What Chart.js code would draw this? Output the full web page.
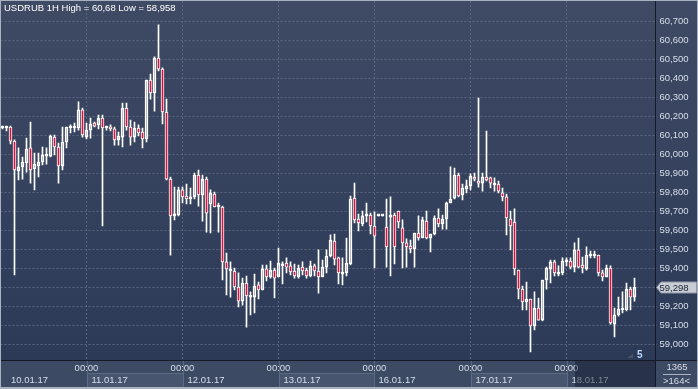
<!DOCTYPE html>
<html>
<head>
<meta charset="utf-8">
<script src="https://cdn.jsdelivr.net/npm/chart.js@4"></script>
<style>
html, body { margin: 0; padding: 0; background: #2f3b55; }
#wrap { position: relative; width: 698px; height: 389px; }
</style>
</head>
<body>
<div id="wrap"><canvas id="chart"></canvas></div>
<script>
const title = 'USDRUB 1H High = 60,68 Low = 58,958';
const days = ['10.01.17', '11.01.17', '12.01.17', '13.01.17', '16.01.17', '17.01.17', '18.01.17'];
const firstHour = 3;      // first bar: 10.01.17 03:00
const slotCount = 164;    // visible bars incl. empty space on the right
const yTicks = [59.0, 59.1, 59.2, 59.3, 59.4, 59.5, 59.6, 59.7, 59.8, 59.9, 60.0, 60.1, 60.2, 60.3, 60.4, 60.5, 60.6, 60.7];
const lastPrice = 59.298;
const totalBars = '1365';
const visibleBars = '>164<';

const opens = [
  60.137, 60.137, 60.142, 60.068, 59.911, 59.932, 59.953, 60.032, 59.921, 59.937,
  59.958, 59.989, 59.989, 60.089, 60.037, 59.937, 60.063, 60.137, 60.137, 60.137,
  60.232, 60.089, 60.126, 60.163, 60.153, 60.189, 60.137, 60.142, 60.132, 60.074,
  60.089, 60.242, 60.142, 60.089, 60.137, 60.116, 60.079, 60.389, 60.321, 60.505,
  60.447, 60.221, 59.868, 59.674, 59.679, 59.811, 59.779, 59.763, 59.774, 59.889,
  59.784, 59.868, 59.737, 59.789, 59.721, 59.721, 59.432, 59.384, 59.384, 59.300,
  59.226, 59.321, 59.247, 59.247, 59.311, 59.284, 59.395, 59.353, 59.389, 59.353,
  59.411, 59.426, 59.411, 59.384, 59.353, 59.405, 59.389, 59.358, 59.411, 59.384,
  59.353, 59.405, 59.463, 59.542, 59.453, 59.368, 59.374, 59.421, 59.768, 59.658,
  59.632, 59.674, 59.679, 59.621, 59.674, 59.674, 59.616, 59.668, 59.679, 59.700,
  59.611, 59.532, 59.516, 59.500, 59.584, 59.558, 59.647, 59.558, 59.579, 59.663,
  59.632, 59.658, 59.742, 59.768, 59.889, 59.784, 59.816, 59.832, 59.879, 59.858,
  59.847, 59.879, 59.874, 59.837, 59.842, 59.795, 59.774, 59.658, 59.642, 59.389,
  59.289, 59.221, 59.237, 59.095, 59.189, 59.126, 59.337, 59.395, 59.432, 59.368,
  59.374, 59.432, 59.437, 59.405, 59.495, 59.416, 59.395, 59.463, 59.463, 59.468,
  59.374, 59.353, 59.400, 59.105, 59.153, 59.179, 59.179, 59.289, 59.247
];
const highs = [
  60.147, 60.147, 60.147, 60.074, 60.032, 59.984, 60.084, 60.168, 60.005, 60.005,
  60.037, 60.032, 60.100, 60.100, 60.058, 60.142, 60.142, 60.153, 60.163, 60.274,
  60.242, 60.163, 60.189, 60.168, 60.205, 60.205, 60.147, 60.153, 60.142, 60.116,
  60.268, 60.268, 60.179, 60.168, 60.153, 60.137, 60.389, 60.421, 60.511, 60.680,
  60.453, 60.289, 59.879, 59.826, 59.826, 59.826, 59.842, 59.821, 59.900, 59.916,
  59.889, 59.879, 59.811, 59.800, 59.742, 59.726, 59.479, 59.432, 59.400, 59.374,
  59.347, 59.358, 59.274, 59.368, 59.326, 59.416, 59.416, 59.437, 59.400, 59.505,
  59.432, 59.453, 59.432, 59.421, 59.416, 59.432, 59.400, 59.437, 59.421, 59.495,
  59.442, 59.495, 59.574, 59.579, 59.458, 59.453, 59.558, 59.779, 59.847, 59.684,
  59.700, 59.742, 59.689, 59.695, 59.674, 59.674, 59.763, 59.774, 59.689, 59.700,
  59.653, 59.553, 59.547, 59.584, 59.674, 59.668, 59.700, 59.579, 59.674, 59.711,
  59.679, 59.747, 59.932, 59.926, 59.900, 59.842, 59.863, 59.895, 59.900, 60.295,
  59.900, 60.121, 59.879, 59.874, 59.858, 59.821, 59.789, 59.700, 59.711, 59.389,
  59.305, 59.326, 59.237, 59.274, 59.242, 59.337, 59.405, 59.442, 59.442, 59.411,
  59.453, 59.453, 59.453, 59.532, 59.558, 59.458, 59.511, 59.489, 59.489, 59.468,
  59.389, 59.416, 59.411, 59.189, 59.247, 59.274, 59.321, 59.300, 59.347
];
const lows = [
  60.132, 60.121, 60.053, 59.363, 59.863, 59.868, 59.905, 59.847, 59.811, 59.879,
  59.942, 59.947, 59.984, 59.995, 59.847, 59.916, 60.032, 60.111, 60.116, 60.126,
  60.089, 60.079, 60.084, 60.142, 60.132, 59.621, 60.126, 60.121, 60.047, 60.047,
  60.037, 60.126, 60.047, 60.063, 60.095, 60.032, 60.063, 60.289, 60.226, 60.437,
  60.158, 59.863, 59.468, 59.653, 59.674, 59.742, 59.737, 59.737, 59.763, 59.726,
  59.647, 59.589, 59.584, 59.721, 59.589, 59.337, 59.258, 59.247, 59.284, 59.195,
  59.205, 59.089, 59.153, 59.163, 59.237, 59.284, 59.332, 59.347, 59.242, 59.353,
  59.316, 59.374, 59.363, 59.347, 59.347, 59.363, 59.347, 59.353, 59.358, 59.268,
  59.353, 59.374, 59.458, 59.416, 59.316, 59.311, 59.358, 59.416, 59.637, 59.595,
  59.621, 59.642, 59.579, 59.400, 59.674, 59.674, 59.405, 59.358, 59.421, 59.611,
  59.400, 59.405, 59.479, 59.405, 59.547, 59.558, 59.553, 59.484, 59.574, 59.616,
  59.605, 59.605, 59.742, 59.763, 59.774, 59.758, 59.795, 59.811, 59.858, 59.826,
  59.805, 59.858, 59.821, 59.805, 59.795, 59.753, 59.574, 59.495, 59.363, 59.237,
  59.179, 59.179, 58.958, 59.074, 59.126, 59.121, 59.289, 59.321, 59.358, 59.358,
  59.363, 59.411, 59.395, 59.379, 59.400, 59.374, 59.389, 59.453, 59.453, 59.358,
  59.332, 59.353, 59.105, 59.037, 59.147, 59.163, 59.174, 59.179, 59.226
];
const closes = [
  60.142, 60.142, 60.068, 59.916, 59.932, 59.958, 60.026, 59.916, 59.947, 59.958,
  59.995, 59.995, 60.095, 60.037, 59.937, 60.063, 60.142, 60.142, 60.142, 60.232,
  60.100, 60.126, 60.158, 60.147, 60.189, 60.137, 60.142, 60.132, 60.074, 60.095,
  60.242, 60.142, 60.089, 60.137, 60.111, 60.079, 60.389, 60.321, 60.505, 60.447,
  60.221, 59.868, 59.674, 59.679, 59.811, 59.774, 59.763, 59.774, 59.889, 59.784,
  59.868, 59.689, 59.795, 59.721, 59.726, 59.432, 59.395, 59.395, 59.300, 59.226,
  59.321, 59.253, 59.253, 59.305, 59.284, 59.395, 59.353, 59.389, 59.347, 59.426,
  59.416, 59.405, 59.379, 59.358, 59.400, 59.384, 59.358, 59.411, 59.384, 59.353,
  59.405, 59.463, 59.547, 59.447, 59.374, 59.374, 59.426, 59.763, 59.653, 59.637,
  59.674, 59.679, 59.621, 59.568, 59.674, 59.674, 59.511, 59.674, 59.511, 59.642,
  59.532, 59.511, 59.500, 59.584, 59.558, 59.653, 59.558, 59.579, 59.663, 59.632,
  59.658, 59.742, 59.763, 59.889, 59.779, 59.821, 59.832, 59.884, 59.868, 59.847,
  59.879, 59.863, 59.847, 59.842, 59.805, 59.774, 59.663, 59.621, 59.395, 59.289,
  59.221, 59.237, 59.095, 59.189, 59.126, 59.337, 59.400, 59.432, 59.374, 59.374,
  59.437, 59.437, 59.405, 59.495, 59.405, 59.400, 59.468, 59.468, 59.468, 59.374,
  59.353, 59.400, 59.111, 59.153, 59.184, 59.184, 59.289, 59.247, 59.298
];

// hourly category labels, weekend skipped
const labels = [];
days.forEach((day, d) => {
  for (let h = d === 0 ? firstHour : 0; h < 24 && labels.length < slotCount; h++) {
    labels.push(day + ' ' + String(h).padStart(2, '0') + ':00');
  }
});
const isMidnight = i => !!labels[i] && labels[i].endsWith(' 00:00');

const bodies = opens.map((o, i) => [o, closes[i]]);
const upperWicks = opens.map((o, i) => [Math.max(o, closes[i]), highs[i]]);
const lowerWicks = opens.map((o, i) => [lows[i], Math.min(o, closes[i])]);

const FONT = "'Liberation Sans', Arial, sans-serif";
const textColor = '#d6dfeb';
const gridColor = '#5a667f';
const downColor = '#dc143c';

Chart.defaults.font.family = FONT;

const panel = {
  id: 'panel',
  beforeDraw(chart) {
    const {ctx, chartArea: a, scales: {x}} = chart;
    const W = chart.width, H = chart.height;
    ctx.save();
    const g = ctx.createLinearGradient(0, 0, 0, a.bottom);
    g.addColorStop(0, '#3f4a64');
    g.addColorStop(1, '#2c3a58');
    ctx.fillStyle = g;
    ctx.fillRect(0, 0, W, a.bottom);
    // time axis panel
    ctx.fillStyle = '#3d4a63';
    ctx.fillRect(0, a.bottom, W, H - a.bottom);
    const starts = [0];
    labels.forEach((l, i) => { if (isMidnight(i)) starts.push(Math.round(x.getPixelForValue(i)) + 0.5); });
    starts.forEach((sx, d) => {
      const ex = d + 1 < starts.length ? starts[d + 1] : Math.floor(a.right);
      if (d % 2 === 1) {
        ctx.fillStyle = '#48556f';
        ctx.fillRect(sx, 373, ex - sx, 14);
        ctx.strokeStyle = '#5d6a84';
        ctx.beginPath();
        ctx.moveTo(sx, 373.5); ctx.lineTo(ex, 373.5);
        ctx.stroke();
      }
      if (d > 0) {
        ctx.strokeStyle = '#5d6a84';
        ctx.beginPath();
        ctx.moveTo(sx, a.bottom); ctx.lineTo(sx, 387);
        ctx.stroke();
      }
    });
    ctx.restore();
  },
  afterDraw(chart) {
    const {ctx, chartArea: a, scales: {x, y}} = chart;
    const W = chart.width, H = chart.height;
    ctx.save();
    ctx.font = '9.5px ' + FONT;
    ctx.textBaseline = 'middle';

    // date labels
    ctx.fillStyle = textColor;
    ctx.textAlign = 'left';
    let d = 0;
    ctx.fillText(days[0], 11, 380);
    labels.forEach((l, i) => {
      if (isMidnight(i)) {
        d++;
        ctx.fillText(days[d], Math.round(x.getPixelForValue(i)) + 4.5, 380);
      }
    });
    // dimmed area over the last day
    ctx.fillStyle = 'rgba(15,22,40,0.45)';
    ctx.fillRect(575, a.bottom + 1, Math.floor(a.right) - 575, 387 - a.bottom - 1);

    // separators
    const ax = Math.floor(a.right) - 0.5;
    ctx.strokeStyle = '#131926';
    ctx.lineWidth = 1;
    ctx.beginPath();
    ctx.moveTo(0, Math.round(a.bottom) + 0.5); ctx.lineTo(W, Math.round(a.bottom) + 0.5);
    ctx.moveTo(ax, 0); ctx.lineTo(ax, H);
    ctx.stroke();

    // bars counter box
    ctx.fillStyle = textColor;
    ctx.textAlign = 'center';
    ctx.fillText(totalBars, 677, 367);
    ctx.fillText(visibleBars, 676.5, 381.5);
    ctx.strokeStyle = '#aab4c4';
    ctx.beginPath();
    ctx.moveTo(663, 374.5); ctx.lineTo(691, 374.5);
    ctx.stroke();

    // small marker bottom right of plot
    ctx.fillStyle = '#4b566e';
    ctx.beginPath();
    ctx.moveTo(627, 358); ctx.lineTo(633, 354); ctx.lineTo(633, 358); ctx.closePath();
    ctx.fill();
    ctx.fillStyle = '#bcdcff';
    ctx.textAlign = 'left';
    ctx.font = 'bold 10px ' + FONT;
    ctx.fillText('5', 637, 355.5);

    // last price tag
    const ty = Math.round(y.getPixelForValue(lastPrice)) + 0.5;
    ctx.beginPath();
    ctx.moveTo(ax + 1, ty);
    ctx.lineTo(ax + 5.5, ty - 5.5);
    ctx.lineTo(696.5, ty - 5.5);
    ctx.lineTo(696.5, ty + 5.5);
    ctx.lineTo(ax + 5.5, ty + 5.5);
    ctx.closePath();
    ctx.fillStyle = '#c8ccd3';
    ctx.fill();
    ctx.strokeStyle = '#8f97a6';
    ctx.stroke();
    ctx.fillStyle = '#1b2335';
    ctx.font = '9.5px ' + FONT;
    ctx.fillText(lastPrice.toFixed(3).replace('.', ','), 659.5, ty + 0.5);

    // title
    ctx.fillStyle = '#ffffff';
    ctx.fillText(title, 4, 8);

    // outer frame
    ctx.strokeStyle = '#a9b2c0';
    ctx.beginPath();
    ctx.moveTo(0, 0.5); ctx.lineTo(W, 0.5);
    ctx.moveTo(0.5, 0); ctx.lineTo(0.5, H);
    ctx.moveTo(W - 0.5, 0); ctx.lineTo(W - 0.5, H);
    ctx.moveTo(0, H - 0.5); ctx.lineTo(W, H - 0.5);
    ctx.moveTo(0, H - 1.5); ctx.lineTo(W, H - 1.5);
    ctx.stroke();
    ctx.restore();
  }
};

const ctx = document.getElementById('chart');

const config = {
  type: 'bar',
  data: {
    labels: labels,
    datasets: [
      {
        label: 'body',
        data: bodies,
        grouped: false,
        order: 0,
        barThickness: 3,
        minBarLength: 2,
        borderWidth: 1,
        borderSkipped: false,
        borderColor: '#ffffff',
        backgroundColor: c => closes[c.dataIndex] < opens[c.dataIndex] ? downColor : 'rgba(0,0,0,0)'
      },
      {
        label: 'upper wick',
        data: upperWicks,
        grouped: false,
        order: 1,
        barThickness: 1,
        borderWidth: 0,
        backgroundColor: '#ffffff'
      },
      {
        label: 'lower wick',
        data: lowerWicks,
        grouped: false,
        order: 1,
        barThickness: 1,
        borderWidth: 0,
        backgroundColor: '#ffffff'
      }
    ]
  },
  plugins: [panel],
  options: {
    responsive: true,
    maintainAspectRatio: false,
    devicePixelRatio: 1,
    animation: false,
    events: [],
    layout: { padding: { left: 0.5, top: 1, right: 0, bottom: 0 } },
    plugins: {
      legend: { display: false },
      tooltip: { enabled: false }
    },
    scales: {
      x: {
        type: 'category',
        offset: true,
        grid: {
          offset: false,
          drawTicks: false,
          lineWidth: 1,
          color: c => isMidnight(c.index) ? gridColor : 'rgba(0,0,0,0)'
        },
        border: { display: false, dash: [2, 2] },
        ticks: {
          autoSkip: false,
          maxRotation: 0,
          minRotation: 0,
          padding: 3,
          color: textColor,
          font: { size: 9.5 },
          callback: (v, i) => isMidnight(i) ? '00:00' : ''
        },
        afterFit: s => { s.height = 29; s.paddingLeft = 0; s.paddingRight = 0; }
      },
      y: {
        position: 'right',
        min: 58.9158,
        max: 60.8053,
        afterBuildTicks: s => { s.ticks = yTicks.map(v => ({ value: v })); },
        grid: { color: gridColor, drawTicks: false, lineWidth: 1 },
        border: { display: false, dash: [2, 2] },
        ticks: {
          padding: 3,
          color: textColor,
          font: { size: 9.5 },
          callback: v => v.toFixed(3).replace('.', ',')
        },
        afterFit: s => { s.width = 41.5; s.paddingTop = 0; s.paddingBottom = 0; }
      }
    }
  }
};

const myChart = new Chart(ctx, config);
</script>
</body>
</html>
